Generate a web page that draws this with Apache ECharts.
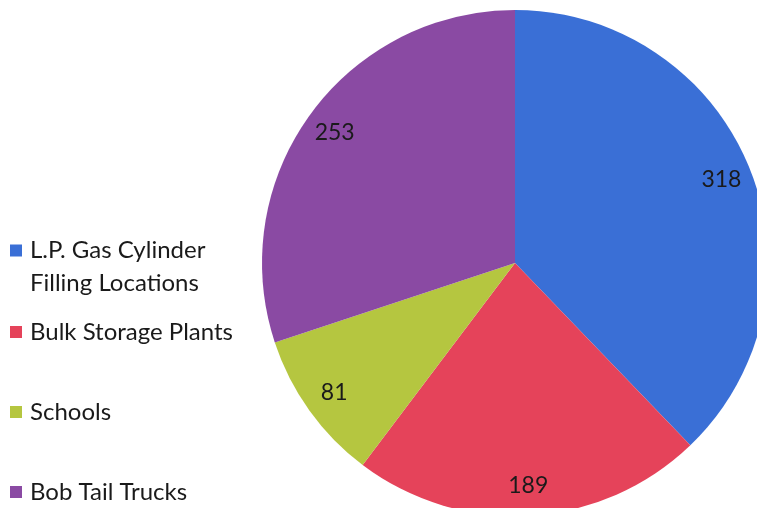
<!DOCTYPE html>
<html>
<head>
<meta charset="utf-8">
<script src="https://cdn.jsdelivr.net/npm/echarts@6/dist/echarts.min.js"></script>
<style>
  html, body { margin: 0; padding: 0; background: #fff; }
  #main { width: 757px; height: 508px; }
</style>
</head>
<body>
<div id="main"></div>
<script>
// data
var categories = ["L.P. Gas Cylinder Filling Locations", "Bulk Storage Plants", "Schools", "Bob Tail Trucks"];
var values = [318, 189, 81, 253];
var colors = ["#3a6fd6", "#e5435a", "#b5c640", "#8a4aa3"];

var chart = echarts.init(document.getElementById("main"));

var pieData = categories.map(function (name, i) {
  return { name: name, value: values[i], itemStyle: { color: colors[i] } };
});

var legendText = {
  fontFamily: "Lato",
  fontSize: 24,
  color: "#1a1a1a",
  padding: [0, 0, 0, 3]
};

var option = {
  backgroundColor: "#fff",
  animation: false,
  legend: [
    {
      // first item wraps to two lines, icon sits on the first line
      // (leading blank line puts the middle of the block on line one)
      data: [categories[0]],
      orient: "vertical",
      left: 10,
      top: 201,
      padding: 0,
      itemWidth: 12,
      itemHeight: 12,
      icon: "rect",
      formatter: function () {
        return "\nL.P. Gas Cylinder\nFilling Locations";
      },
      textStyle: Object.assign({ lineHeight: 33 }, legendText)
    },
    {
      data: categories.slice(1),
      orient: "vertical",
      left: 10,
      top: 318,
      padding: 0,
      itemGap: 52,
      itemWidth: 12,
      itemHeight: 12,
      icon: "rect",
      textStyle: Object.assign({ lineHeight: 28 }, legendText)
    }
  ],
  series: [
    {
      type: "pie",
      center: [515, 263],
      radius: [0, 253],
      startAngle: 90,
      clockwise: true,
      label: { show: false },
      labelLine: { show: false },
      emphasis: { disabled: true },
      data: pieData
    },
    {
      // transparent ring only used to place the value labels near the rim
      type: "pie",
      center: [515, 263],
      radius: [186, 253],
      startAngle: 90,
      clockwise: true,
      silent: true,
      legendHoverLink: false,
      itemStyle: { color: "rgba(0,0,0,0)" },
      label: {
        show: true,
        position: "inside",
        formatter: "{c}",
        fontFamily: "Lato",
        fontSize: 23,
        color: "#1a1a1a"
      },
      labelLine: { show: false },
      emphasis: { disabled: true },
      data: categories.map(function (name, i) {
        return { name: name, value: values[i] };
      })
    }
  ]
};

chart.setOption(option);
</script>
</body>
</html>
